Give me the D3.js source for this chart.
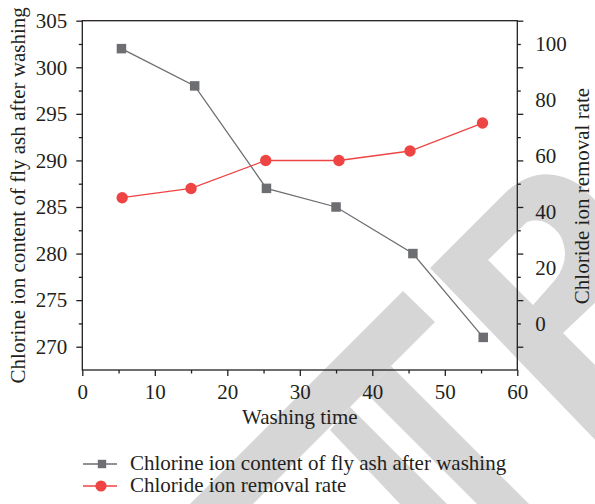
<!DOCTYPE html>
<html>
<head>
<meta charset="utf-8">
<script src="https://cdn.jsdelivr.net/npm/d3@7"></script>
<style>
  html, body { margin: 0; padding: 0; background: #fff; }
  svg text { font-family: "Liberation Serif", "Times New Roman", serif; fill: #231f20; }
</style>
</head>
<body>
<svg id="chart" width="595" height="504"></svg>
<script>
// Washing time (min) for each sample, per series
const timeContent = [5.4, 15.5, 25.4, 35.0, 45.6, 55.3];
const timeRemoval = [5.5, 15.0, 25.3, 35.4, 45.2, 55.2];
// Chlorine ion content of fly ash after washing (left axis)
const chlorineContent = [302, 298, 287, 285, 280, 271];
// Chloride ion removal rate (right axis)
const removalRate = [45.0, 48.3, 58.3, 58.3, 61.7, 71.7];

const xTicks = [0, 10, 20, 30, 40, 50, 60];
const xMinorTicks = [5, 15, 25, 35, 45, 55];
const leftTicks = [270, 275, 280, 285, 290, 295, 300, 305];
const leftMinorTicks = [272.5, 277.5, 282.5, 287.5, 292.5, 297.5, 302.5];
const rightTicks = [0, 20, 40, 60, 80, 100];

const seriesNames = ["Chlorine ion content of fly ash after washing", "Chloride ion removal rate"];
const grayColor = "#6d6e72";
const redColor = "#ef4444";

const svg = d3.select("#chart");
const FS = 21;

const plot = { left: 82.3, right: 517.3, top: 20.7, bottom: 370 };

const x = d3.scaleLinear().domain([0, 60]).range([plot.left, plot.right]);
const yLeft = d3.scaleLinear().domain([267.5, 305]).range([plot.bottom, plot.top]);
const yRight = d3.scaleLinear().domain([-16.667, 108.333]).range([plot.bottom, plot.top]);

// Publisher watermark shapes in the background
const wm = svg.append("g").attr("fill", "#d6d6d6");
wm.append("path").attr("d", "M403,291 L435,322 L253,504 L190,504 Z");
wm.append("path").attr("d", "M391,366 L529,504 L477,504 L365,392 Z");
wm.append("path").attr("d", "M350,407 L447,504 L400,504 L330,430 Z");
wm.append("path").attr("fill-rule", "evenodd")
  .attr("d", "M430,268 L505,193 Q540,160 580,185 L600,205 L600,298 L563,333 L600,370 L600,445 Z " +
             "M488,260 L527,222 Q545,215 560,235 Q572,258 555,280 L533,305 Z");

// Frame
const axisColor = "#231f20";
svg.append("rect")
  .attr("x", plot.left).attr("y", plot.top)
  .attr("width", plot.right - plot.left).attr("height", plot.bottom - plot.top)
  .attr("fill", "none").attr("stroke", axisColor).attr("stroke-width", 1.3);

function styleAxis(g) {
  g.select(".domain").remove();
  g.selectAll(".tick line").attr("stroke", axisColor).attr("stroke-width", 1.3);
  g.selectAll(".tick text").attr("font-size", FS).attr("fill", axisColor);
}

// Bottom axis
svg.append("g").attr("transform", `translate(0,${plot.bottom})`)
  .call(d3.axisBottom(x).tickValues(xTicks).tickSize(6).tickPadding(8).tickFormat(d3.format("d")))
  .call(styleAxis);
svg.append("g").attr("transform", `translate(0,${plot.bottom})`)
  .call(d3.axisBottom(x).tickValues(xMinorTicks).tickSize(3.5).tickFormat(""))
  .call(styleAxis);

// Left axis
svg.append("g").attr("transform", `translate(${plot.left},0)`)
  .call(d3.axisLeft(yLeft).tickValues(leftTicks).tickSize(6).tickPadding(9).tickFormat(d3.format("d")))
  .call(styleAxis);
svg.append("g").attr("transform", `translate(${plot.left},0)`)
  .call(d3.axisLeft(yLeft).tickValues(leftMinorTicks).tickSize(3.5).tickFormat(""))
  .call(styleAxis);

// Right side: mirrored tick marks of the left scale
svg.append("g").attr("transform", `translate(${plot.right},0)`)
  .call(d3.axisRight(yLeft).tickValues(leftTicks).tickSize(6).tickFormat(""))
  .call(styleAxis);
svg.append("g").attr("transform", `translate(${plot.right},0)`)
  .call(d3.axisRight(yLeft).tickValues(leftMinorTicks).tickSize(3.5).tickFormat(""))
  .call(styleAxis);
// Right axis labels for the removal rate
svg.append("g").attr("transform", `translate(${plot.right},0)`)
  .call(d3.axisRight(yRight).tickValues(rightTicks).tickSize(0).tickPadding(18).tickFormat(d3.format("d")))
  .call(styleAxis);

// Axis titles
svg.append("text").attr("x", (plot.left + plot.right) / 2).attr("y", 424)
  .attr("text-anchor", "middle").attr("font-size", FS).text("Washing time");
svg.append("text").attr("transform", `translate(25,${(plot.top + plot.bottom) / 2}) rotate(-90)`)
  .attr("text-anchor", "middle").attr("font-size", FS).text("Chlorine ion content of fly ash after washing");
svg.append("text").attr("transform", `translate(589,196) rotate(-90)`)
  .attr("text-anchor", "middle").attr("font-size", FS).text("Chloride ion removal rate");

// Series
const contentPts = timeContent.map((t, i) => [x(t), yLeft(chlorineContent[i])]);
const removalPts = timeRemoval.map((t, i) => [x(t), yRight(removalRate[i])]);
const line = d3.line();

svg.append("path").attr("d", line(contentPts)).attr("fill", "none")
  .attr("stroke", grayColor).attr("stroke-width", 1.3);
svg.append("path").attr("d", line(removalPts)).attr("fill", "none")
  .attr("stroke", redColor).attr("stroke-width", 1.3);

const sq = 9.5;
svg.append("g").selectAll("rect").data(contentPts).join("rect")
  .attr("x", d => d[0] - sq / 2).attr("y", d => d[1] - sq / 2)
  .attr("width", sq).attr("height", sq).attr("fill", grayColor);
svg.append("g").selectAll("circle").data(removalPts).join("circle")
  .attr("cx", d => d[0]).attr("cy", d => d[1]).attr("r", 5.7).attr("fill", redColor);

// Legend
const legend = svg.append("g");
const legRows = [
  { name: seriesNames[0], color: grayColor, shape: "square", y: 464 },
  { name: seriesNames[1], color: redColor, shape: "circle", y: 486 }
];
legRows.forEach(r => {
  legend.append("line").attr("x1", 83).attr("x2", 117).attr("y1", r.y).attr("y2", r.y)
    .attr("stroke", r.color).attr("stroke-width", 1.3);
  if (r.shape === "square") {
    legend.append("rect").attr("x", 102 - 4.2).attr("y", r.y - 4.2).attr("width", 8.4).attr("height", 8.4).attr("fill", r.color);
  } else {
    legend.append("circle").attr("cx", 101).attr("cy", r.y).attr("r", 5.6).attr("fill", r.color);
  }
  legend.append("text").attr("x", 130).attr("y", r.y + 5.5).attr("font-size", FS).text(r.name);
});
</script>
</body>
</html>
